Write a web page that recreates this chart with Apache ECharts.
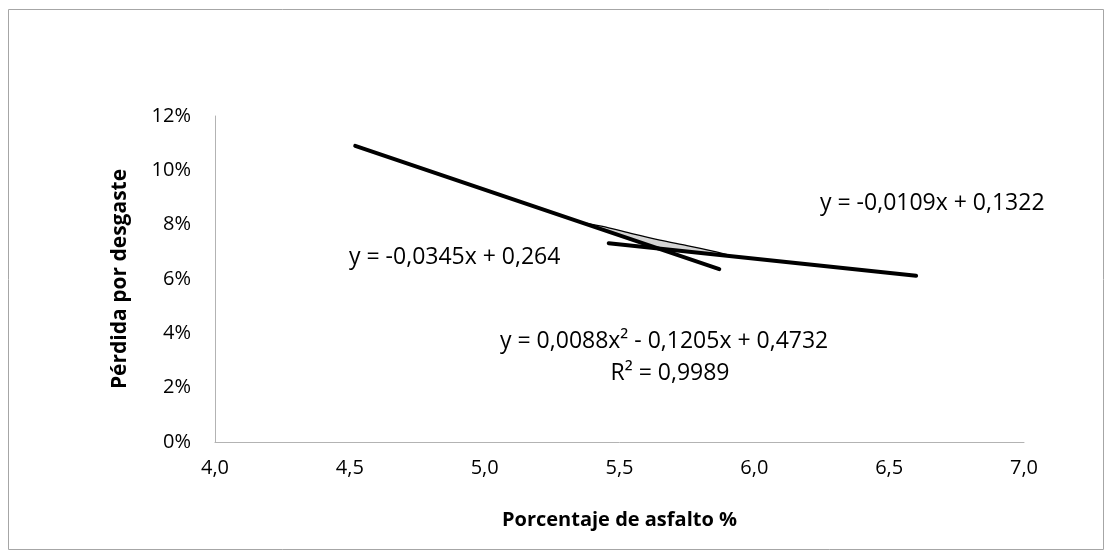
<!DOCTYPE html>
<html>
<head>
<meta charset="utf-8">
<script src="https://cdn.jsdelivr.net/npm/echarts@6/dist/echarts.min.js"></script>
<style>html,body{margin:0;padding:0;background:#fff}#c{width:1109px;height:550px}</style>
</head>
<body>
<div id="c"></div>
<script>
// Values
const xTicks = ['4,0','4,5','5,0','5,5','6,0','6,5','7,0'];
const yTicks = ['0%','2%','4%','6%','8%','10%','12%'];
const line1 = [[4.52, 0.1090], [5.87, 0.0636]];          // y = -0,0345x + 0,264
const line2 = [[5.46, 0.0732], [6.60, 0.0612]];          // y = -0,0109x + 0,1322
const curveX = [5.38, 5.45, 5.55, 5.65, 5.75, 5.85, 5.90];
const curveUpper = [0.0805, 0.0791, 0.0766, 0.0743, 0.0723, 0.0702, 0.0690];
const curveLower = [0.0805, 0.0777, 0.0744, 0.0712, 0.0701, 0.0691, 0.0686];
const eq1 = 'y = -0,0345x + 0,264';
const eq2 = 'y = -0,0109x + 0,1322';
const eq3 = 'y = 0,0088x² - 0,1205x + 0,4732';
const eq4 = 'R² = 0,9989';
const xTitle = 'Porcentaje de asfalto %';
const yTitle = 'Pérdida por desgaste';

const FONT = '"Open Sans", "Liberation Sans", sans-serif';
const chart = echarts.init(document.getElementById('c'), null, {renderer: 'canvas'});
const upperPts = curveX.map((x, i) => [x, curveUpper[i]]);
const lowerPts = curveX.map((x, i) => [x, curveLower[i]]);

chart.setOption({
  animation: false,
  backgroundColor: '#fff',
  grid: {left: 215, right: 85, top: 116, bottom: 108, containLabel: false},
  xAxis: {
    type: 'value', min: 4, max: 7, interval: 0.5,
    axisLine: {show: true, lineStyle: {color: '#b3b3b3', width: 1}},
    axisTick: {show: false}, splitLine: {show: false},
    axisLabel: {margin: 16, fontSize: 20, color: '#000', fontFamily: FONT,
      formatter: v => xTicks[Math.round((v - 4) / 0.5)]},
    name: xTitle, nameLocation: 'middle', nameGap: 68,
    nameTextStyle: {fontSize: 20, fontWeight: 'bold', color: '#000', fontFamily: FONT}
  },
  yAxis: {
    type: 'value', min: 0, max: 0.12, interval: 0.02,
    axisLine: {show: true, lineStyle: {color: '#b3b3b3', width: 1}},
    axisTick: {show: false}, splitLine: {show: false},
    axisLabel: {margin: 24, fontSize: 20, color: '#000', fontFamily: FONT,
      formatter: v => yTicks[Math.round(v / 0.02)]},
    name: yTitle, nameLocation: 'middle', nameGap: 84, nameRotate: 90,
    nameTextStyle: {fontSize: 21, fontWeight: 'bold', color: '#000', fontFamily: FONT}
  },
  graphic: [
    {type: 'rect', shape: {x: 8.5, y: 9.5, width: 1095, height: 540},
     style: {fill: 'none', stroke: '#a6a6a6', lineWidth: 1}, z: -1},
    {type: 'text', x: 349, y: 257, style: {text: eq1, font: '23px ' + FONT, fill: '#000', textVerticalAlign: 'middle', verticalAlign: 'middle'}},
    {type: 'text', x: 820, y: 203, style: {text: eq2, font: '23px ' + FONT, fill: '#000', textVerticalAlign: 'middle', verticalAlign: 'middle'}},
    {type: 'text', x: 500, y: 341, style: {text: eq3, font: '23px ' + FONT, fill: '#000', textVerticalAlign: 'middle', verticalAlign: 'middle'}},
    {type: 'text', x: 670, y: 373, style: {text: eq4, font: '23px ' + FONT, fill: '#000', textAlign: 'center', align: 'center', textVerticalAlign: 'middle', verticalAlign: 'middle'}}
  ],
  series: [
    {type: 'custom', silent: true, z: 1, data: [0],
     renderItem: function (params, api) {
       const up = upperPts.map(p => api.coord(p));
       const lo = lowerPts.map(p => api.coord(p)).reverse();
       return {type: 'group', children: [
         {type: 'polygon', shape: {points: up.concat(lo), smooth: 0}, style: {fill: '#d4d4d4', stroke: null}},
         {type: 'polyline', shape: {points: up, smooth: 0.3}, style: {fill: null, stroke: '#000', lineWidth: 1.3}}
       ]};
     }},
    {type: 'line', data: line1, symbol: 'none', lineStyle: {color: '#000', width: 4, cap: 'round'}, z: 3},
    {type: 'line', data: line2, symbol: 'none', lineStyle: {color: '#000', width: 4, cap: 'round'}, z: 3}
  ]
});
</script>
</body>
</html>
